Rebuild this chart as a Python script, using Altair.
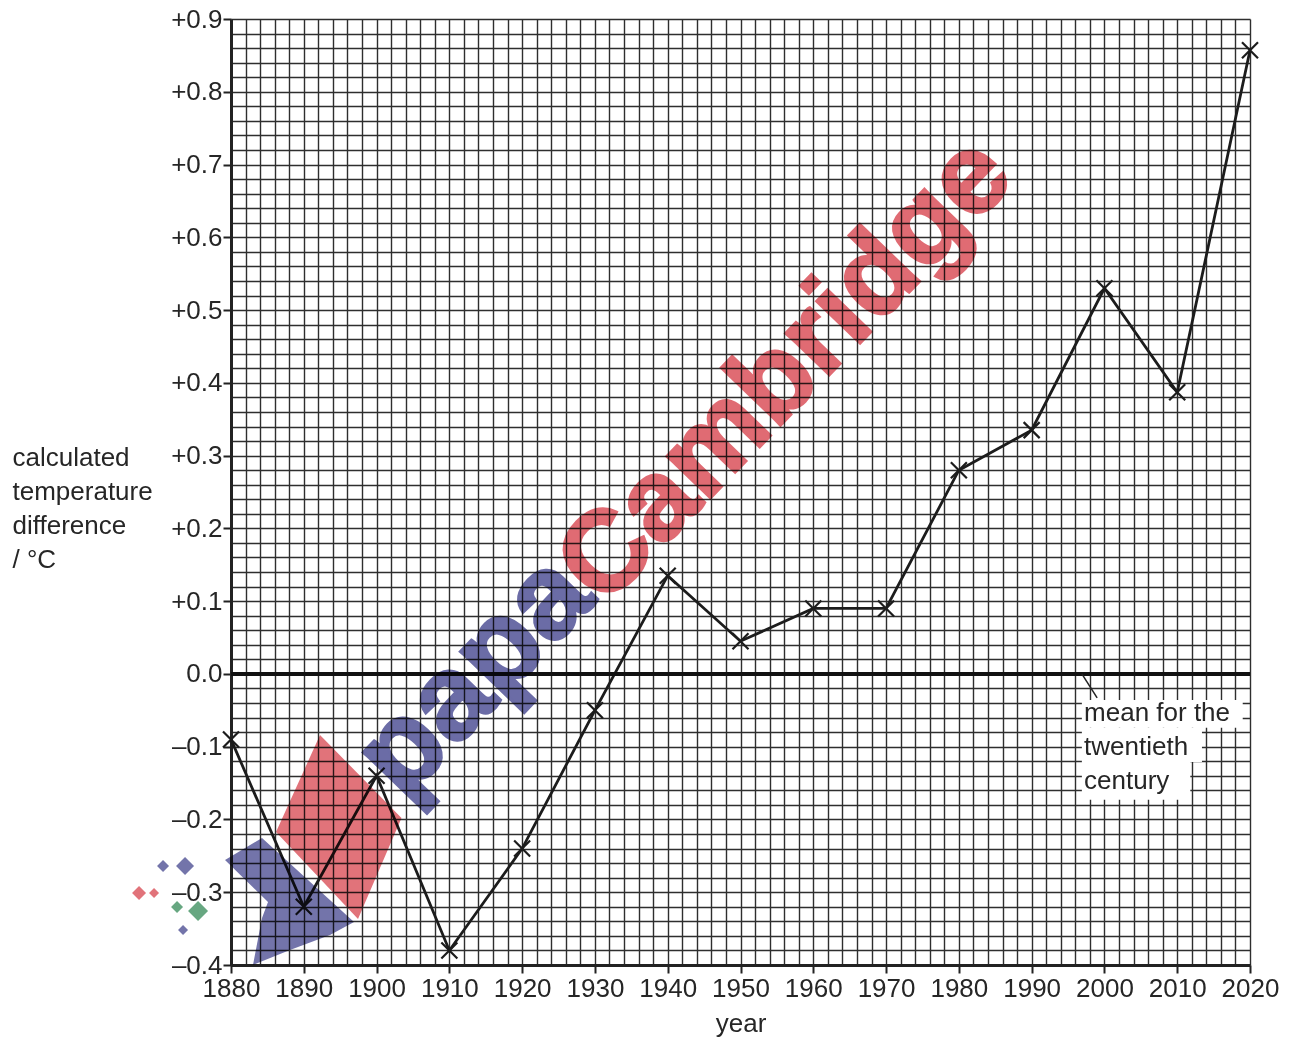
import altair as alt
import pandas as pd

# ---- data ----
years = [1880, 1890, 1900, 1910, 1920, 1930, 1940, 1950, 1960, 1970, 1980, 1990, 2000, 2010, 2020]
temps = [-0.09, -0.32, -0.14, -0.38, -0.24, -0.05, 0.135, 0.045, 0.09, 0.09, 0.28, 0.335, 0.53, 0.387, 0.857]

x_tick_values = [1880, 1890, 1900, 1910, 1920, 1930, 1940, 1950, 1960, 1970, 1980, 1990, 2000, 2010, 2020]
y_tick_values = [-0.4, -0.3, -0.2, -0.1, 0.0, 0.1, 0.2, 0.3, 0.4, 0.5, 0.6, 0.7, 0.8, 0.9]
grid_x_values = list(range(1880, 2021, 2))
grid_y_values = [round(-0.4 + 0.02 * i, 2) for i in range(66)]

y_title_lines = ["calculated", "temperature", "difference", "/ °C"]
annotation_text = ["mean for the", "twentieth", "century"]
watermark_a = "papa"
watermark_b = "Cambridge"

FONT = "Liberation Sans"
INK = "#1c1c1c"
TXT = "#262626"

df = pd.DataFrame({"year": years, "temp": temps})

xs = alt.Scale(domain=[1880, 2020], nice=False, zero=False)
ys = alt.Scale(domain=[-0.4, 0.9], nice=False, zero=False)


def X(field):
    return alt.X(field, scale=xs, axis=None)


def Y(field):
    return alt.Y(field, scale=ys, axis=None)


# grid layer (carries the fine graph-paper grid)
grid_layer = alt.Chart(df).mark_line(color=INK, strokeWidth=2.8).encode(
    x=alt.X("year:Q", scale=xs, axis=alt.Axis(orient="top", values=grid_x_values, grid=True,
                                               gridColor="#2e2e2e", gridWidth=1.4, gridOpacity=1,
                                               labels=False, ticks=False, domain=False, title=None)),
    y=alt.Y("temp:Q", scale=ys, axis=alt.Axis(orient="right", values=grid_y_values, grid=True,
                                               gridColor="#2e2e2e", gridWidth=1.4, gridOpacity=1,
                                               labels=False, ticks=False, domain=False, title=None)),
)

label_expr = ("datum.value > 0.001 ? '+' + format(datum.value, '.1f') : "
              "(datum.value < -0.001 ? '\u2013' + format(-datum.value, '.1f') : '0.0')")

cross = "M-8,-8L8,8M-8,8L8,-8"
point_layer = alt.Chart(df).mark_point(shape=cross, size=4, filled=False, color=INK, strokeWidth=2.2,
                                       opacity=1).encode(
    x=alt.X("year:Q", scale=xs, axis=alt.Axis(orient="bottom", values=x_tick_values, grid=False,
                                               format="d", labelFont=FONT, labelFontSize=26,
                                               labelColor=TXT, labelPadding=2,
                                               tickSize=8, tickWidth=2, tickColor="#222222",
                                               domainWidth=3, domainColor="#222222",
                                               labelFlush=False, labelOverlap=False,
                                               title="year", titleFont=FONT, titleFontSize=26,
                                               titleFontWeight="normal", titleColor=TXT,
                                               titleBaseline="alphabetic", titleY=66)),
    y=alt.Y("temp:Q", scale=ys, axis=alt.Axis(orient="left", values=y_tick_values, grid=False,
                                               labelExpr=label_expr, labelFont=FONT, labelFontSize=26,
                                               labelColor=TXT, labelPadding=1,
                                               tickSize=8, tickWidth=2, tickColor="#222222",
                                               domainWidth=3, domainColor="#222222",
                                               labelFlush=False, labelOverlap=False,
                                               title=y_title_lines, titleFont=FONT, titleFontSize=26,
                                               titleFontWeight="normal", titleColor=TXT,
                                               titleAngle=0, titleAlign="left", titleBaseline="alphabetic",
                                               titleX=-219, titleY=446, titleLineHeight=34)),
)

zero_df = pd.DataFrame({"y": [0.0]})
zero_line = alt.Chart(zero_df).mark_rule(color="#111111", strokeWidth=4).encode(y=Y("y:Q"))

# annotation for the mean line
leader_df = pd.DataFrame({"x": [1996.9], "y": [0.0], "x2": [1999.0], "y2": [-0.033]})
leader = alt.Chart(leader_df).mark_rule(color="#222222", strokeWidth=1.5).encode(
    x=X("x:Q"), y=Y("y:Q"), x2="x2:Q", y2="y2:Q")

box_df = pd.DataFrame({"x": [1996.9, 1996.9, 1996.9], "x2": [2019.0, 2013.4, 2011.8],
                       "y": [-0.036, -0.074, -0.121], "y2": [-0.074, -0.121, -0.173]})
ann_box = alt.Chart(box_df).mark_rect(color="white", opacity=1).encode(
    x=X("x:Q"), x2="x2:Q", y=Y("y:Q"), y2="y2:Q")

ann_df = pd.DataFrame({"x": [1997.2], "y": [-0.0647]})
ann_text = alt.Chart(ann_df).mark_text(text=annotation_text, align="left", baseline="alphabetic",
                                       font=FONT, fontSize=26, lineHeight=34, color=TXT).encode(
    x=X("x:Q"), y=Y("y:Q"))

# watermark
wm_a_df = pd.DataFrame({"x": [1930.4], "y": [0.101]})
wm_b_df = pd.DataFrame({"x": [1931.2], "y": [0.09]})
wm_a = alt.Chart(wm_a_df).mark_text(text=watermark_a, align="right", baseline="alphabetic", angle=314,
                                    font=FONT, fontSize=120, fontWeight="bold", color="#6b6ca6",
                                    stroke="#6b6ca6", strokeWidth=3,
                                    blend="multiply").encode(x=X("x:Q"), y=Y("y:Q"))
wm_b = alt.Chart(wm_b_df).mark_text(text=watermark_b, align="left", baseline="alphabetic", angle=314,
                                    font=FONT, fontSize=114, fontWeight="bold", color="#e06b73",
                                    stroke="#e06b73", strokeWidth=3,
                                    blend="multiply").encode(x=X("x:Q"), y=Y("y:Q"))


# logo shapes (paths relative to an anchor, in pixels: size=4 -> unit scale)
def diamond(cx, cy, h):
    return f"M{cx},{cy - h}L{cx + h},{cy}L{cx},{cy + h}L{cx - h},{cy}Z"


red_path = ("M-18.5,-91L63,-8L19.5,93L-62.5,6Z" +
            diamond(139 - 338.5, 893 - 826, 7) + diamond(154 - 338.5, 893 - 826, 5))
blue_path = ("M-113.5,34L-76.5,12L15.5,96L-8.5,109L-48.5,124L-85.5,139L-76.5,92L-70.5,76Z" +
             diamond(163 - 338.5, 866 - 826, 6) + diamond(185 - 338.5, 866 - 826, 9) +
             diamond(183 - 338.5, 930 - 826, 5))
green_path = diamond(177 - 338.5, 907 - 826, 6) + diamond(198 - 338.5, 911 - 826, 10)

logo_df = pd.DataFrame({"x": [1894.77], "y": [-0.209]})


def logo_layer(path, colour):
    return alt.Chart(logo_df).mark_point(shape=path, size=4, filled=True, color=colour, opacity=0.95,
                                         strokeWidth=0, blend="multiply").encode(
        x=X("x:Q"), y=Y("y:Q"))


chart = alt.layer(
    grid_layer, zero_line, point_layer, leader, ann_box, ann_text,
    logo_layer(blue_path, "#6b6ca6"), logo_layer(red_path, "#e06b73"), logo_layer(green_path, "#5fa27a"),
    wm_a, wm_b,
).resolve_axis(x="independent", y="independent").properties(
    width=1019, height=946,
    autosize=alt.AutoSizeParams(type="none"),
    padding={"left": 223, "top": 11, "right": 40, "bottom": 76},
).configure_view(stroke=None)

chart.save("out.html", embed_options={"renderer": "svg", "actions": False})
